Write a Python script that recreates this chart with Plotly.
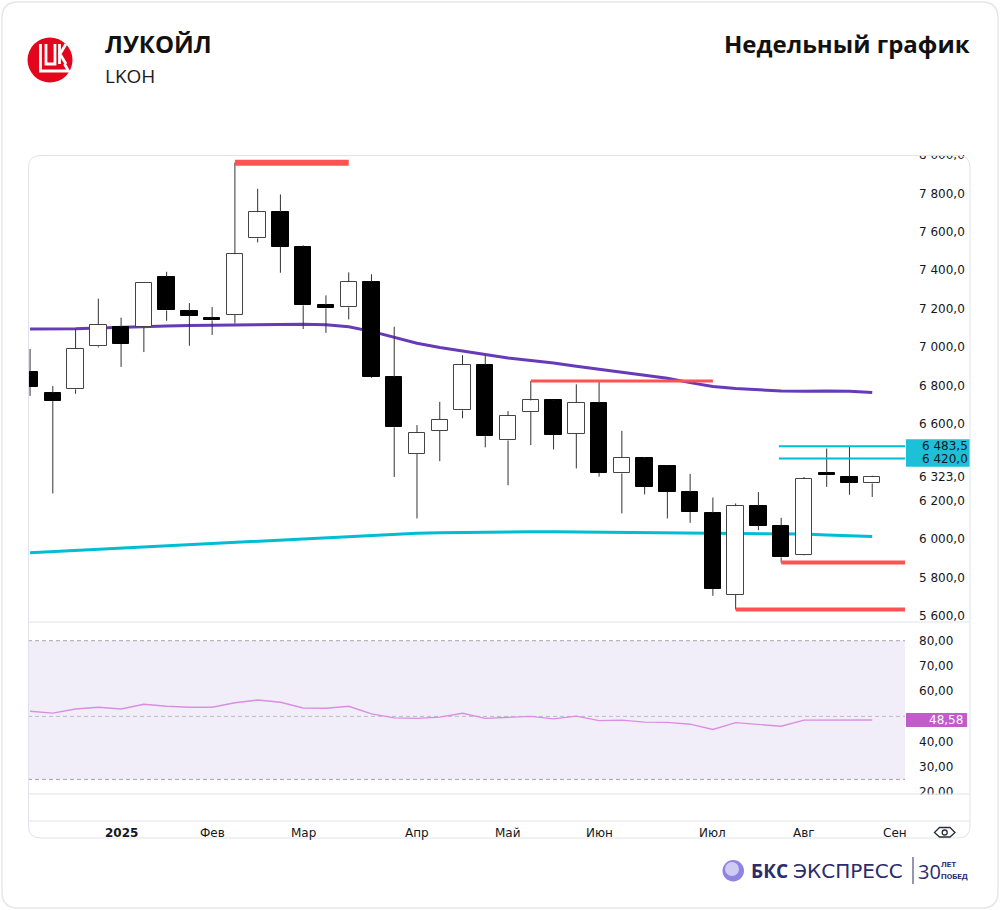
import pandas as pd
import plotly.graph_objects as go

# ---------------- data ----------------
weeks = list(pd.date_range("2024-12-02", periods=38, freq="7D").strftime("%Y-%m-%d"))

opens = [6870, 6762, 6780, 7004, 7104, 7102, 7366, 7189, 7153, 7167,
         7566, 7702, 7522, 7220, 7207, 7340, 6844, 6443, 6564, 6670,
         6906, 6514, 6663, 6722, 6550, 6710, 6342, 6422, 6382, 6246,
         6137, 5710, 6172, 6071, 5917, 6347, 6326, 6290]
highs = [6990, 6797, 7094, 7252, 7153, 7338, 7392, 7229, 7208, 7960,
         7824, 7795, 7530, 7269, 7389, 7379, 7106, 6594, 6715, 6958,
         6955, 6667, 6823, 6725, 6806, 6823, 6564, 6428, 6385, 6340,
         6217, 6186, 6245, 6111, 6324, 6472, 6483.5, 6330]
lows = [6746, 6238, 6757, 6998, 6897, 6974, 7137, 7007, 7063, 7123,
        7545, 7387, 7094, 7074, 7144, 6840, 6324, 6108, 6406, 6629,
        6478, 6281, 6490, 6467, 6368, 6326, 6134, 6233, 6108, 6085,
        5705, 5634, 6047, 5878, 5915, 6272, 6231, 6220]
closes = [6793, 6719, 6990, 7116, 7016, 7335, 7191, 7163, 7139, 7484,
          7702, 7522, 7217, 7202, 7339, 6844, 6582, 6554, 6623, 6906,
          6536, 6641, 6722, 6543, 6710, 6347, 6425, 6274, 6246, 6141,
          5741, 6172, 6071, 5905, 6313, 6333, 6295, 6323]

ma_purple = [7094, 7094, 7095, 7100, 7104, 7108, 7110, 7112, 7114, 7116,
             7118, 7119, 7119, 7116, 7106, 7082, 7050, 7020, 6998, 6980,
             6962, 6943, 6930, 6917, 6900, 6885, 6870, 6852, 6838, 6815,
             6795, 6785, 6778, 6771, 6770, 6772, 6770, 6764]
ma_cyan = [5929, 5935, 5942, 5948, 5955, 5961, 5967, 5974, 5980, 5986,
           5992, 5998, 6004, 6010, 6016, 6022, 6027, 6031, 6034, 6036,
           6037, 6038, 6038, 6038, 6037, 6036, 6036, 6035, 6035, 6034,
           6033, 6033, 6032, 6030, 6027, 6022, 6018, 6014]

rsi = [52.0, 51.3, 52.9, 53.6, 52.9, 54.8, 54.0, 53.6, 53.6, 55.4,
       56.5, 55.6, 53.3, 53.2, 54.0, 51.0, 49.4, 49.2, 49.7, 51.2,
       49.2, 49.7, 50.0, 49.0, 50.1, 48.3, 48.5, 47.7, 47.6, 46.9,
       44.8, 47.5, 46.9, 46.1, 48.5, 48.6, 48.5, 48.58]
rsi_last_text = "48,58"
rsi_bands = [80, 50, 25]

month_pos = [4, 8, 12, 17, 21, 25, 30, 34, 38]
month_text = ["2025", "Фев", "Мар", "Апр", "Май", "Июн", "Июл", "Авг", "Сен"]

price_ticks = [8000, 7800, 7600, 7400, 7200, 7000, 6800, 6600, 6323, 6200, 6000, 5800, 5600]
price_tick_text = ["8 000,0", "7 800,0", "7 600,0", "7 400,0", "7 200,0", "7 000,0",
                   "6 800,0", "6 600,0", "6 323,0", "6 200,0", "6 000,0", "5 800,0", "5 600,0"]
rsi_ticks = [80, 70, 60, 40, 30, 20]
rsi_tick_text = ["80,00", "70,00", "60,00", "40,00", "30,00", "20,00"]

red_levels = [7960, 6823, 5878, 5634]
red_from = [9, 22, 33, 31]
red_to = [14, 30, None, None]
cyan_levels = [6483.5, 6420.0]
cyan_text = ["6 483,5", "6 420,0"]
cyan_from = 32.9

# ---------------- geometry helpers ----------------
W, H = 1000, 910
ML, MR, MT, MB = 28, 95, 155, 89
PW, PH = W - ML - MR, H - MT - MB
X_RANGE = [-0.09, 38.44]
Y_RANGE = [5568.8, 8000]
R_RANGE = [19.21, 87.42]


def pxx(px):
    return (px - ML) / PW


def pxy(py):
    return (H - MB - py) / PH


def v2py(v):
    return 622 - (v - Y_RANGE[0]) / (Y_RANGE[1] - Y_RANGE[0]) * (622 - 155)


def r2py(v):
    return 794 - (v - R_RANGE[0]) / (R_RANGE[1] - R_RANGE[0]) * (794 - 622)


def ppath(points, close=False):
    s = ""
    for cmd, pts in points:
        s += cmd + " ".join(f"{pxx(a):.5f},{pxy(b):.5f}" for a, b in pts) + " "
    return s + ("Z" if close else "")


def rrect(x0, y0, x1, y1, r):
    return ppath([("M", [(x0 + r, y0)]), ("L", [(x1 - r, y0)]), ("Q", [(x1, y0), (x1, y0 + r)]),
                  ("L", [(x1, y1 - r)]), ("Q", [(x1, y1), (x1 - r, y1)]), ("L", [(x0 + r, y1)]),
                  ("Q", [(x0, y1), (x0, y1 - r)]), ("L", [(x0, y0 + r)]), ("Q", [(x0, y0), (x0 + r, y0)])],
                 close=True)


idx = list(range(len(weeks)))
body_base = [min(o, c) for o, c in zip(opens, closes)]
body_h = [abs(c - o) for o, c in zip(opens, closes)]
up = [c >= o for o, c in zip(opens, closes)]

wx, wy = [], []
for i in idx:
    top, bot = max(opens[i], closes[i]), min(opens[i], closes[i])
    wx += [i, i, None, i, i, None]
    wy += [highs[i], top, None, bot, lows[i], None]

fig = go.Figure()
# moving averages on base axis (below candles)
fig.add_trace(go.Scatter(x=idx, y=ma_purple, mode="lines", line=dict(color="#673ab7", width=3),
                         xaxis="x", yaxis="y", hoverinfo="skip"))
fig.add_trace(go.Scatter(x=idx, y=ma_cyan, mode="lines", line=dict(color="#00bcd4", width=3),
                         xaxis="x", yaxis="y", hoverinfo="skip"))
# candles on overlay axis
fig.add_trace(go.Bar(x=idx, y=body_h, base=body_base, width=0.72,
                     marker=dict(color=["#ffffff" if u else "#000000" for u in up],
                                 line=dict(color=["#444444" if u else "#000000" for u in up], width=1)),
                     xaxis="x", yaxis="y3", hovertext=weeks, hoverinfo="text"))
fig.add_trace(go.Scatter(x=wx, y=wy, mode="lines", line=dict(color="#333333", width=1),
                         xaxis="x", yaxis="y3", hoverinfo="skip", connectgaps=False))
# RSI
fig.add_trace(go.Scatter(x=idx, y=rsi, mode="lines", line=dict(color="#d88fe2", width=1.4),
                         xaxis="x2", yaxis="y2", hoverinfo="skip"))

axfont = dict(family="DejaVu Sans", size=12, color="#131722")

shapes = []
# outer card
shapes.append(dict(type="path", xref="paper", yref="paper", path=rrect(2, 2, 998, 908, 16),
                   line=dict(color="#e6e6ea", width=1.5), layer="below"))
# RSI band fill and dashed levels
shapes.append(dict(type="rect", xref="paper", yref="y2", x0=0, x1=1, y0=rsi_bands[2], y1=rsi_bands[0],
                   fillcolor="rgba(126,87,194,0.1)", line=dict(width=0), layer="below"))
for b in rsi_bands:
    shapes.append(dict(type="line", xref="paper", yref="y2", x0=0, x1=1, y0=b, y1=b,
                       line=dict(color="#a3a6af" if b != 50 else "#b8bbc4", width=1, dash="4px,3px"),
                       layer="below"))
# red levels
red_w = [6, 3, 4, 4]
for lv, a, b, w in zip(red_levels, red_from, red_to, red_w):
    shapes.append(dict(type="line", xref="x", yref="y", x0=a, x1=(b if b is not None else X_RANGE[1]),
                       y0=lv, y1=lv, line=dict(color="#ff5252", width=w), layer="above"))
# cyan levels
for lv in cyan_levels:
    shapes.append(dict(type="line", xref="x", yref="y", x0=cyan_from, x1=X_RANGE[1],
                       y0=lv, y1=lv, line=dict(color="#00bcd4", width=2), layer="above"))
# covers for clipped labels
shapes.append(dict(type="rect", xref="paper", yref="paper", x0=pxx(906), x1=pxx(985),
                   y0=pxy(155), y1=pxy(140), fillcolor="#ffffff", line=dict(width=0), layer="above"))
shapes.append(dict(type="rect", xref="paper", yref="paper", x0=pxx(906), x1=pxx(985),
                   y0=pxy(815), y1=pxy(794.5), fillcolor="#ffffff", line=dict(width=0), layer="above"))
shapes.append(dict(type="rect", xref="paper", yref="paper", x0=pxx(903), x1=pxx(930),
                   y0=pxy(837), y1=pxy(823), fillcolor="#ffffff", line=dict(width=0), layer="above"))
# cyan price label box
shapes.append(dict(type="rect", xref="paper", yref="paper", x0=pxx(906), x1=pxx(970),
                   y0=pxy(v2py(cyan_levels[1]) + 8.2), y1=pxy(v2py(cyan_levels[0]) - 7),
                   fillcolor="#1ec0d8", line=dict(width=0), layer="above"))
# RSI value box
ry = r2py(rsi[-1])
shapes.append(dict(type="rect", xref="paper", yref="paper", x0=pxx(906), x1=pxx(967),
                   y0=pxy(ry + 7), y1=pxy(ry - 7), fillcolor="#c45bca", line=dict(width=0), layer="above"))
# chart card border and separators
shapes.append(dict(type="path", xref="paper", yref="paper", path=rrect(28.5, 155.5, 970, 838, 12),
                   line=dict(color="#e0e3eb", width=1), layer="above"))
for yy in [622, 794, 821]:
    shapes.append(dict(type="line", xref="paper", yref="paper", x0=pxx(28.5), x1=pxx(970),
                       y0=pxy(yy), y1=pxy(yy), line=dict(color="#e0e3eb", width=1), layer="above"))
# eye icon
shapes.append(dict(type="path", xref="paper", yref="paper",
                   path=ppath([("M", [(934.5, 832.5)]), ("L", [(939.5, 827.5)]), ("L", [(950, 827.5)]),
                               ("L", [(955, 832.5)]), ("L", [(950, 837)]), ("L", [(939.5, 837)])], close=True),
                   line=dict(color="#2a2e39", width=1.3), layer="above"))
shapes.append(dict(type="circle", xref="paper", yref="paper", x0=pxx(942.2), x1=pxx(947.2),
                   y0=pxy(835), y1=pxy(830), line=dict(color="#2a2e39", width=1.3), layer="above"))
# Lukoil logo
shapes.append(dict(type="circle", xref="paper", yref="paper", x0=pxx(27.5), x1=pxx(72.5),
                   y0=pxy(82.5), y1=pxy(37.5), fillcolor="#e3051b", line=dict(width=0), layer="above"))
logo_paths = [
    [("M", [(40.5, 44)]), ("L", [(40.5, 71)]), ("L", [(68.5, 71)]), ("L", [(64.5, 64)])],
    [("M", [(46, 44)]), ("L", [(46, 64)]), ("L", [(55, 64)]), ("L", [(55, 44)])],
    [("M", [(59.5, 44)]), ("L", [(59.5, 64)])],
    [("M", [(66, 44)]), ("L", [(60, 54)]), ("L", [(66, 64)])],
]
for p in logo_paths:
    shapes.append(dict(type="path", xref="paper", yref="paper", path=ppath(p),
                       line=dict(color="#ffffff", width=2.8), layer="above"))
# BCS footer sphere
shapes.append(dict(type="circle", xref="paper", yref="paper", x0=pxx(722.5), x1=pxx(744),
                   y0=pxy(881.5), y1=pxy(860), fillcolor="#8f84e2", line=dict(width=0), layer="above"))
shapes.append(dict(type="circle", xref="paper", yref="paper", x0=pxx(725), x1=pxx(739),
                   y0=pxy(876), y1=pxy(862), fillcolor="rgba(230,227,250,0.75)", line=dict(width=0),
                   layer="above"))
shapes.append(dict(type="line", xref="paper", yref="paper", x0=pxx(913), x1=pxx(913),
                   y0=pxy(884), y1=pxy(857), line=dict(color="#2a2c6b", width=1), layer="above"))

ann = []
for pos, txt in zip(month_pos, month_text):
    ann.append(dict(xref="x", yref="paper", x=pos, y=pxy(832.5), text=(f"<b>{txt}</b>" if txt == "2025" else txt),
                    showarrow=False, xanchor="center", yanchor="middle", font=axfont))
for lv, t in zip(cyan_levels, cyan_text):
    ann.append(dict(xref="paper", yref="y", x=pxx(970), y=lv, text=t, showarrow=False,
                    xanchor="right", yanchor="middle", font=axfont))
ann.append(dict(xref="paper", yref="y2", x=pxx(965), y=rsi[-1], text=rsi_last_text, showarrow=False,
                xanchor="right", yanchor="middle", font=dict(family="DejaVu Sans", size=12, color="#ffffff")))
# header
ann.append(dict(xref="paper", yref="paper", x=pxx(103), y=pxy(43), text="<b>ЛУКОЙЛ</b>", showarrow=False,
                xanchor="left", yanchor="middle", font=dict(family="Open Sans", size=24, color="#111111")))
ann.append(dict(xref="paper", yref="paper", x=pxx(103), y=pxy(76), text="LKOH", showarrow=False,
                xanchor="left", yanchor="middle", font=dict(family="Open Sans", size=19, color="#1a1a1a")))
ann.append(dict(xref="paper", yref="paper", x=pxx(972), y=pxy(43), text="<b>Недельный график</b>",
                showarrow=False, xanchor="right", yanchor="middle",
                font=dict(family="Open Sans", size=24, color="#111111")))
# footer brand
ann.append(dict(xref="paper", yref="paper", x=pxx(749), y=pxy(871), text="<b>БКС</b>", showarrow=False,
                xanchor="left", yanchor="middle", font=dict(family="Open Sans", size=19, color="#2a2c6b")))
ann.append(dict(xref="paper", yref="paper", x=pxx(791), y=pxy(871), text="ЭКСПРЕСС", showarrow=False,
                xanchor="left", yanchor="middle", font=dict(family="DejaVu Sans", size=20, color="#2a2c6b")))
ann.append(dict(xref="paper", yref="paper", x=pxx(916), y=pxy(871), text="30", showarrow=False,
                xanchor="left", yanchor="middle", font=dict(family="Open Sans", size=20, color="#2a2c6b")))
ann.append(dict(xref="paper", yref="paper", x=pxx(939), y=pxy(864), text="<b>ЛЕТ</b>", showarrow=False,
                xanchor="left", yanchor="middle", font=dict(family="Roboto", size=8, color="#2a2c6b")))
ann.append(dict(xref="paper", yref="paper", x=pxx(939), y=pxy(876), text="<b>ПОБЕД</b>", showarrow=False,
                xanchor="left", yanchor="middle", font=dict(family="Roboto", size=8, color="#2a2c6b")))

fig.update_layout(
    width=W, height=H, margin=dict(l=ML, r=MR, t=MT, b=MB),
    paper_bgcolor="#ffffff", plot_bgcolor="rgba(0,0,0,0)", showlegend=False,
    bargap=0,
    xaxis=dict(domain=[0, 1], range=X_RANGE, anchor="y", visible=False, fixedrange=True),
    xaxis2=dict(domain=[0, 1], range=X_RANGE, anchor="y2", matches="x", visible=False),
    yaxis=dict(domain=[pxy(622), 1], range=Y_RANGE, side="right", anchor="x",
               tickvals=price_ticks, ticktext=price_tick_text, ticks="", showgrid=False,
               zeroline=False, showline=False, tickfont=axfont, ticklabelstandoff=13),
    yaxis3=dict(range=Y_RANGE, overlaying="y", anchor="x", visible=False),
    yaxis2=dict(domain=[pxy(794), pxy(622)], range=R_RANGE, side="right", anchor="x2",
                tickvals=rsi_ticks, ticktext=rsi_tick_text, ticks="", showgrid=False,
                zeroline=False, showline=False, tickfont=axfont, ticklabelstandoff=13),
    shapes=shapes, annotations=ann,
)

fig.write_html("out.html")
